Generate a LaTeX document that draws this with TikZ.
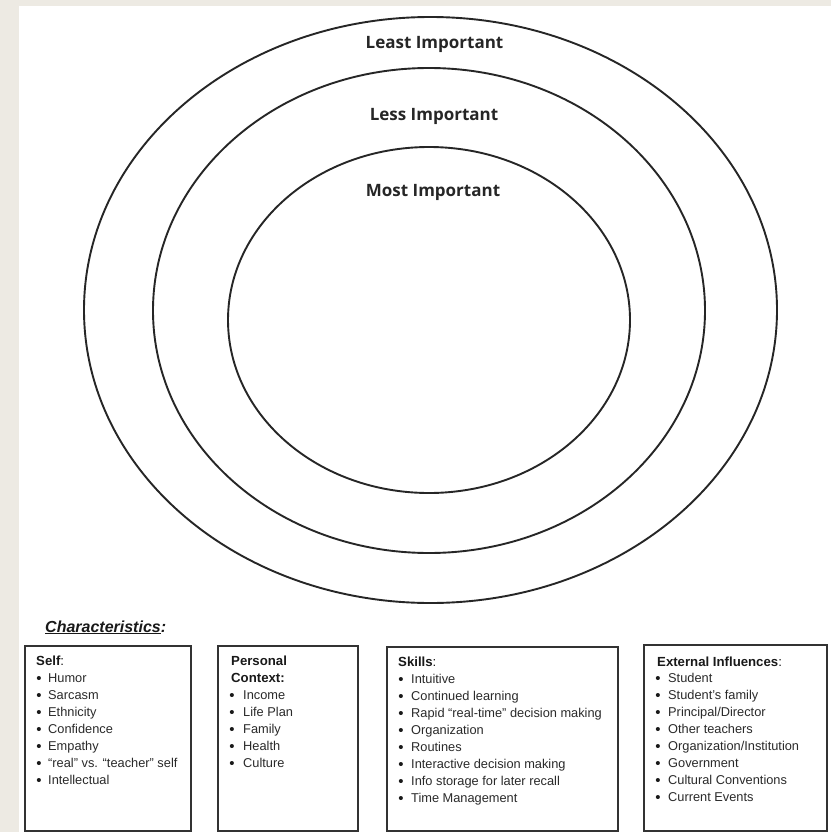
\documentclass[tikz,border=0pt]{standalone}
\usepackage{fontspec}
\setmainfont{Liberation Sans}
\newfontfamily\labfont{Open Sans}
\definecolor{bgbeige}{HTML}{EDEAE3}
\definecolor{inkgray}{HTML}{2A2A2A}
\begin{document}
\begin{tikzpicture}[x=1pt,y=-1pt,
  ring/.style={draw=black!85,line width=1.9pt},
  lab/.style={font=\labfont\bfseries\fontsize{17}{20}\selectfont,anchor=base,inner sep=0pt,text=black!85},
  charbox/.style={draw=black!80,line width=1.8pt,anchor=north west,outer sep=0pt,inner sep=0pt},
  boxtitle/.style={font=\bfseries\fontsize{13.2}{16}\selectfont,anchor=base west,inner sep=0pt,text=black!90},
  bul/.style={font=\fontsize{15}{15}\selectfont,anchor=base,inner sep=0pt,text=black!90},
  itm/.style={font=\fontsize{12.8}{15}\selectfont,anchor=base west,inner sep=0pt,text=inkgray},
  heading/.style={font=\bfseries\itshape\fontsize{16}{19}\selectfont,anchor=base west,inner sep=0pt,text=black!90}]
\fill[bgbeige] (0,0) rectangle (831,832);
\fill[white] (19,6) rectangle (831,832);
\useasboundingbox (0,0) rectangle (831,832);
% rings
\draw[ring] (430.5,310) ellipse [x radius=346.5, y radius=293];
\draw[ring] (429,310.5) ellipse [x radius=276, y radius=242.5];
\draw[ring] (429,320) ellipse [x radius=201, y radius=173];
\node[lab] (least) at (434.5,49) {Least Important};
\node[lab] (less) at (434,120.5) {Less Important};
\node[lab] (most) at (433,196.5) {Most Important};
% heading
\node[heading] (chars) at (45,632) {\underline{Characteristics}:};
% boxes
\node[charbox,minimum width=166,minimum height=185] (selfbox) at (25,646) {};
\node[charbox,minimum width=140,minimum height=185] (ctxbox) at (218,646) {};
\node[charbox,minimum width=231,minimum height=184] (skillbox) at (387,647) {};
\node[charbox,minimum width=183,minimum height=186] (extbox) at (644,645) {};
% Self
\node[boxtitle] (selft) at (36,665.5) {Self\mdseries:};
\foreach \t [count=\i] in {Humor,Sarcasm,Ethnicity,Confidence,Empathy,“real” vs. “teacher” self,Intellectual}{
  \node[bul] (selfb\i) at (39,{683+17*(\i-1)}) {\textbullet};
  \node[itm] (selfi\i) at (48,{682+17*(\i-1)}) {\t};
}
% Personal context
\node[boxtitle] (ctxt1) at (231,665.5) {Personal};
\node[boxtitle] (ctxt2) at (231,682.5) {Context:};
\foreach \t [count=\i] in {Income,Life Plan,Family,Health,Culture}{
  \node[bul] (ctxb\i) at (232,{700+17*(\i-1)}) {\textbullet};
  \node[itm] (ctxi\i) at (243,{699+17*(\i-1)}) {\t};
}
% Skills
\node[boxtitle] (skillt) at (398,666.5) {Skills\mdseries:};
\foreach \t [count=\i] in {Intuitive,Continued learning,Rapid “real-time” decision making,Organization,Routines,Interactive decision making,Info storage for later recall,Time Management}{
  \node[bul] (skillb\i) at (401,{684+17*(\i-1)}) {\textbullet};
  \node[itm] (skilli\i) at (411,{683+17*(\i-1)}) {\t};
}
% External influences
\node[boxtitle] (extt) at (657,666.5) {External Influences\mdseries:};
\foreach \t [count=\i] in {Student,Student’s family,Principal/Director,Other teachers,Organization/Institution,Government,Cultural Conventions,Current Events}{
  \node[bul] (extb\i) at (658,{683+17*(\i-1)}) {\textbullet};
  \node[itm] (exti\i) at (668,{682+17*(\i-1)}) {\t};
}
\end{tikzpicture}
\end{document}
